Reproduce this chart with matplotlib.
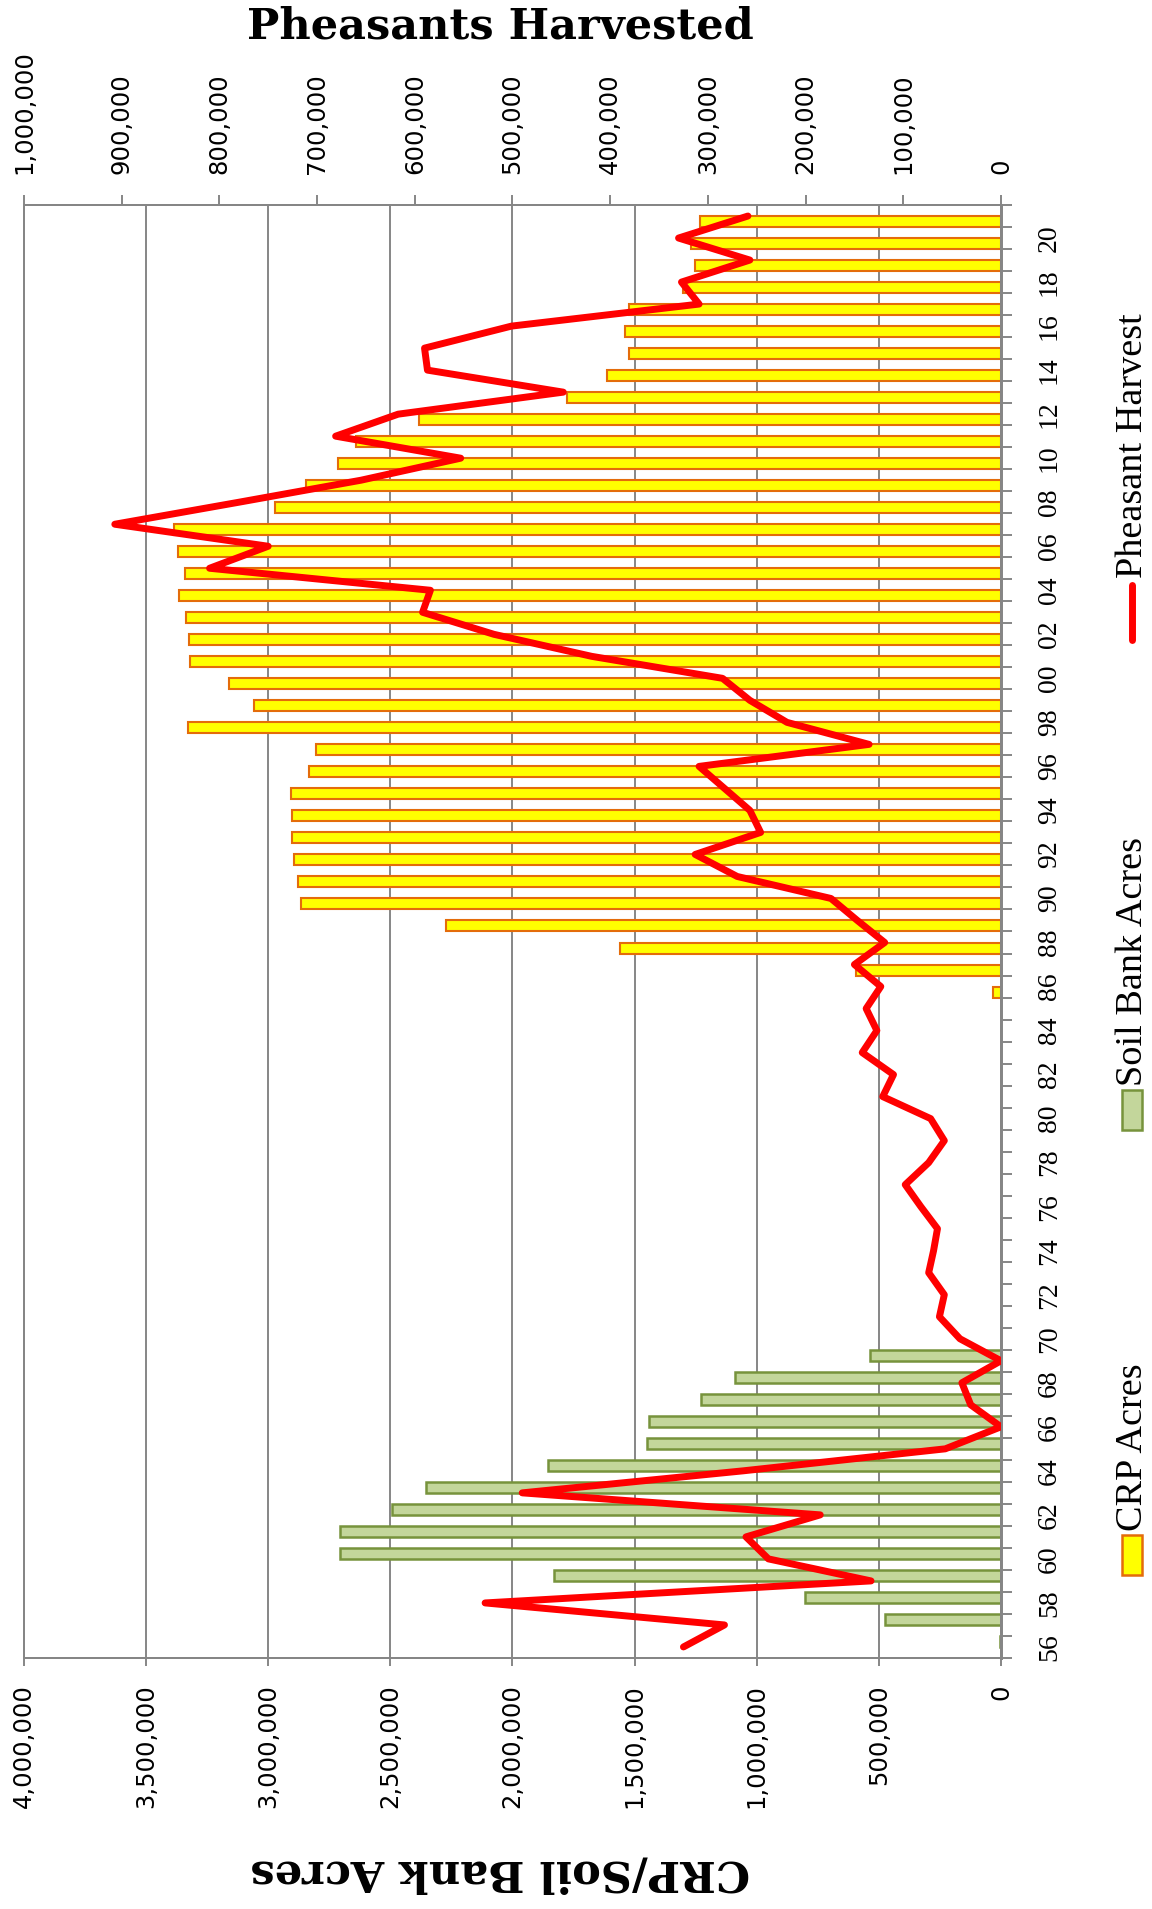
import numpy as np
import matplotlib.pyplot as plt
from matplotlib.patches import Rectangle
from matplotlib.lines import Line2D

# years on the category axis (1956 at the bottom, 2021 at the top)
years = list(range(1956, 2022))

soil_bank_years = list(range(1956, 1970))
soil_bank_acres = [5000, 476000, 801000, 1828000, 2708000, 2708000, 2494000,
                   2352000, 1855000, 1450000, 1440000, 1230000, 1089000, 538000]

crp_years = list(range(1986, 2022))
crp_acres = [31000, 595000, 1560000, 2271000, 2864000, 2877000, 2895000,
             2903000, 2903000, 2905000, 2833000, 2804000, 3327000, 3058000,
             3161000, 3319000, 3324000, 3337000, 3366000, 3340000, 3368000,
             3386000, 2972000, 2846000, 2714000, 2641000, 2383000, 1777000,
             1614000, 1521000, 1539000, 1524000, 1301000, 1252000, 1268000,
             1234000]

pheasants = [325000, 283000, 528000, 133000, 238000, 261000, 185000, 490000,
             264000, 57000, 0, 31000, 40000, 0, 42000, 63000, 58000, 74000,
             69000, 65000, 82000, 98000, 74000, 58000, 72000, 121000, 110000,
             142000, 127000, 138000, 123000, 150000, 119000, 147000, 174000,
             270000, 313000, 246000, 257000, 283000, 309000, 135000, 219000,
             257000, 285000, 419000, 519000, 592000, 584000, 810000, 750000,
             907000, 780000, 655000, 553000, 681000, 617000, 448000, 587000,
             590000, 501000, 309000, 327000, 257000, 330000, 259000]

acre_ticks = list(range(0, 4000001, 500000))
bird_ticks = list(range(0, 1000001, 100000))

GRAY = '#868686'
YELLOW = '#FFFF00'
ORANGE = '#E46C0A'
GREEN = '#C3D69B'
DKGREEN = '#77933C'
RED = '#FF0000'
SERIF = ['Liberation Serif', 'DejaVu Serif']

fig = plt.figure(figsize=(11.52, 19.09), dpi=100)
ax = fig.add_axes([0.0208, 0.1315, 0.8481, 0.7611])

ypos = {y: i for i, y in enumerate(years)}
crp_y = [ypos[y] - 0.25 for y in crp_years]
sb_y = [ypos[y] + 0.25 for y in soil_bank_years]

ax.barh(crp_y, crp_acres, height=0.5, color=YELLOW, edgecolor=ORANGE,
        linewidth=1.5, zorder=2)
ax.barh(sb_y, soil_bank_acres, height=0.5, color=GREEN, edgecolor=DKGREEN,
        linewidth=1.8, zorder=2)

ax.set_xlim(4000000, 0)
ax.set_ylim(-0.5, len(years) - 0.5)
ax.set_axisbelow(True)
ax.grid(axis='x', color=GRAY, linewidth=1.4)

ax.set_xticks(acre_ticks)
ax.set_xticklabels([f"{v:,}" for v in acre_ticks])
ax.tick_params(axis='x', direction='out', length=6, width=1.4, color=GRAY,
               pad=13, labelsize=17.5, labelrotation=90)

# category axis on the right
ax.yaxis.tick_right()
lab_idx = [ypos[y] for y in years if y % 2 == 0]
ax.set_yticks(lab_idx)
ax.set_yticklabels([f"{y % 100:02d}" for y in years if y % 2 == 0],
                   family=SERIF, fontsize=20, va='center')
ax.set_yticks(np.arange(-0.5, len(years), 1), minor=True)
ax.tick_params(axis='y', which='major', length=0, pad=26, labelrotation=90)
ax.tick_params(axis='y', which='minor', direction='out', length=8,
               width=1.4, color=GRAY)

for s in ax.spines.values():
    s.set_color(GRAY)
    s.set_linewidth(1.4)
ax.spines['right'].set_linewidth(2)

# pheasant harvest on the top axis
ax2 = ax.twiny()
ax2.plot(pheasants, [ypos[y] for y in years], color=RED, linewidth=5,
         solid_joinstyle='round', solid_capstyle='round', zorder=3)
ax2.set_xlim(1000000, 0)
ax2.set_xticks(bird_ticks)
ax2.set_xticklabels([f"{v:,}" for v in bird_ticks])
ax2.tick_params(axis='x', direction='out', length=7, width=1.4, color=GRAY,
                pad=15, labelsize=17.5, labelrotation=90)
for s in ax2.spines.values():
    s.set_color(GRAY)
    s.set_linewidth(1.4)
ax2.spines['right'].set_linewidth(2)

fig.text(0.434, 0.986, 'Pheasants Harvested', fontsize=31, fontweight='bold',
         family='DejaVu Serif', ha='center', va='center')
fig.text(0.434, 0.019, 'CRP/Soil Bank Acres', fontsize=31, fontweight='bold',
         family='DejaVu Serif', ha='center', va='center', rotation=180)

# legend, turned on its side like the rest of the chart
lx = 0.983
fig.add_artist(Line2D([lx, lx], [1 - 640 / 1909, 1 - 585 / 1909],
                      transform=fig.transFigure, color=RED, linewidth=5,
                      solid_capstyle='round'))
fig.text(lx, 1 - 578 / 1909, 'Pheasant Harvest', fontsize=27.5, family=SERIF,
         rotation=90, ha='center', va='bottom')
fig.add_artist(Rectangle((lx - 10 / 1152, 1 - 1130 / 1909), 20 / 1152, 40 / 1909,
                         transform=fig.transFigure, facecolor=GREEN,
                         edgecolor=DKGREEN, linewidth=1.8))
fig.text(lx, 1 - 1086 / 1909, 'Soil Bank Acres', fontsize=27.5, family=SERIF,
         rotation=90, ha='center', va='bottom')
fig.add_artist(Rectangle((lx - 10 / 1152, 1 - 1575 / 1909), 20 / 1152, 40 / 1909,
                         transform=fig.transFigure, facecolor=YELLOW,
                         edgecolor=ORANGE, linewidth=1.8))
fig.text(lx, 1 - 1531 / 1909, 'CRP Acres', fontsize=27.5, family=SERIF,
         rotation=90, ha='center', va='bottom')

fig.savefig('out.png', dpi=100)
